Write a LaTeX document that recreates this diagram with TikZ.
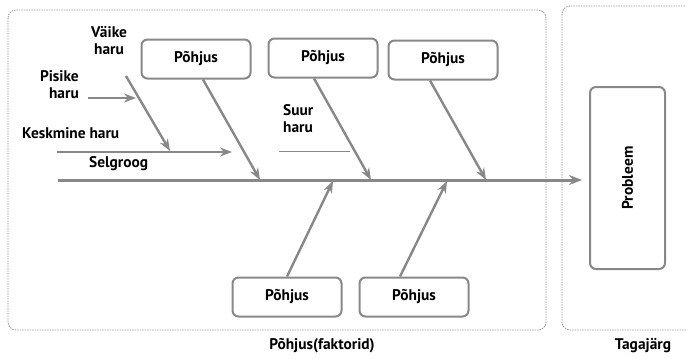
\documentclass[tikz,border=0pt]{standalone}
\usepackage{fontspec}
\setmainfont{PT Sans}
\usetikzlibrary{arrows.meta,calc}
\definecolor{ln}{HTML}{888888}
\definecolor{dsh}{HTML}{9A9A9A}
\begin{document}
\begin{tikzpicture}[x=1pt,y=-1pt,
  font=\fontsize{15.4}{17.5}\selectfont\bfseries,
  cause/.style={draw=ln,line width=2pt,rounded corners=6pt,minimum width=109pt,minimum height=39pt,inner sep=0pt},
  zone/.style={draw=dsh,line width=0.8pt,dash pattern=on 1.5pt off 1pt,rounded corners=8pt},
  arr/.style={draw=ln,line width=2.4pt,-{Stealth[length=12pt,width=9pt]}},
  lbl/.style={inner sep=0pt}]
\useasboundingbox (0,0) rectangle (686,359);
% zones
\draw[zone] (8,10) rectangle (546,330);
\draw[zone] (562,6) rectangle (700,330);
% nodes
\node[cause] (c1) at (196,59) {Põhjus};
\node[cause] (c2) at (323,58) {Põhjus};
\node[cause] (c3) at (443,60) {Põhjus};
\node[cause] (c4) at (287,297) {Põhjus};
\node[cause] (c5) at (414,297) {Põhjus};
\node[draw=ln,line width=2pt,rounded corners=6pt,minimum width=75pt,minimum height=182pt,inner sep=0pt] (prob) at (627.5,178) {};
\node[rotate=90] at (prob.center) {Probleem};
% labels
\node[lbl,align=center,anchor=north] (vaike) at (109,26) {Väike\\haru};
\node[lbl,align=right,anchor=north east] (pisike) at (79,70) {Pisike\\haru};
\node[lbl,anchor=west] (kesk) at (22,133) {Keskmine haru};
\node[lbl,anchor=west] (selg) at (89,164) {Selgroog};
\node[lbl,align=left,anchor=north west] (suur) at (283,104) {Suur\\haru};
\node[lbl] (fakt) at (322,346) {Põhjus(faktorid)};
\node[lbl] (taga) at (643,346) {Tagajärg};
% coordinates
\coordinate (spL) at (58,180);
\coordinate (kL) at (57,152);
\coordinate (kR) at (232,152);
\coordinate (vS) at (126,76);
\coordinate (vE) at (170,151);
\coordinate (pS) at (88,98);
\coordinate (pE) at (136,98);
\coordinate (sA) at (279,151);
\coordinate (sB) at (350,151);
\coordinate (e1) at (260,180);
\coordinate (e2) at (371,180);
\coordinate (e3) at (486,180);
\coordinate (e4) at (333,181);
\coordinate (e5) at (447,181);
% spine
\draw[draw=ln,line width=3pt,-{Stealth[length=13pt,width=10pt]},shorten >=7pt] (spL) -- (prob.west |- spL);
\draw[arr] (kL) -- (kR);
\draw[arr] (vS) -- (vE);
\draw[arr] (pS) -- (pE);
\draw[draw=ln,line width=0.7pt] (sA) -- (sB);
\draw[arr] ($(c1.south)+(7,0)$) -- (e1);
\draw[arr] ($(c2.south)+(-9,0)$) -- (e2);
\draw[arr] ($(c3.south)+(-13,0)$) -- (e3);
\draw[arr] (c4.north) -- (e4);
\draw[arr] ($(c5.north)+(-14,0)$) -- (e5);
\end{tikzpicture}
\end{document}
